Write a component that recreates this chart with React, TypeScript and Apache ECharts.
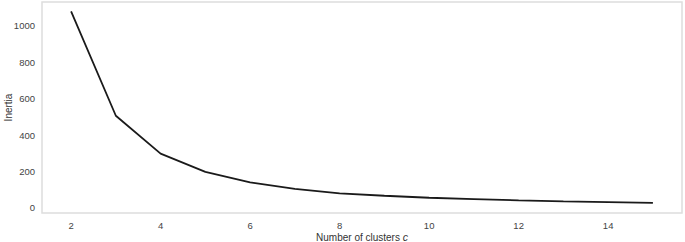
import React, { useEffect, useRef } from "react";
import * as echarts from "echarts";

const clusters = [2, 3, 4, 5, 6, 7, 8, 9, 10, 11, 12, 13, 14, 15];
const inertia = [1078, 506, 298, 198, 140, 105, 80, 67, 56, 49, 42, 36, 32, 28];
const xTicks = [2, 4, 6, 8, 10, 12, 14];
const yTicks = [0, 200, 400, 600, 800, 1000];

export default function App() {
  const ref = useRef<HTMLDivElement>(null);
  useEffect(() => {
    const chart = echarts.init(ref.current!, null, { renderer: "svg" });
    const font = "Liberation Sans, Arial, sans-serif";
    chart.setOption({
      animation: false,
      grid: {
        left: 42,
        top: 2,
        right: 3,
        bottom: 29,
        containLabel: false,
        outerBoundsMode: "none",
        show: true,
        borderColor: "#dddddd",
        borderWidth: 1.5,
        backgroundColor: "#ffffff",
      },
      xAxis: {
        type: "value",
        min: 1.35,
        max: 15.65,
        axisLine: { show: false },
        axisTick: { show: false },
        splitLine: { show: false },
        axisLabel: {
          customValues: xTicks,
          color: "#444",
          fontSize: 9.5,
          fontFamily: font,
          margin: 7,
          formatter: (v: number) => String(v),
        },
        name: "Number of clusters {i|c}",
        nameLocation: "middle",
        nameGap: 24,
        nameMoveOverlap: false,
        nameTextStyle: {
          color: "#333",
          fontSize: 10,
          fontFamily: font,
          verticalAlign: "middle",
          rich: { i: { fontStyle: "italic", fontSize: 10.5, color: "#333", fontFamily: font } },
        },
      },
      yAxis: {
        type: "value",
        min: -27.6,
        max: 1130,
        axisLine: { show: false },
        axisTick: { show: false },
        splitLine: { show: false },
        axisLabel: {
          customValues: yTicks,
          color: "#444",
          fontSize: 9.5,
          fontFamily: font,
          margin: 7,
          formatter: (v: number) => String(v),
        },
        name: "Inertia",
        nameLocation: "middle",
        nameGap: 34,
        nameRotate: 90,
        nameMoveOverlap: false,
        nameTextStyle: { color: "#333", fontSize: 10, fontFamily: font, verticalAlign: "middle" },
      },
      series: [
        {
          type: "line",
          data: clusters.map((c, i) => [c, inertia[i]]),
          symbol: "none",
          lineStyle: { color: "#1a1a1a", width: 1.8 },
        },
      ],
    });
    return () => chart.dispose();
  }, []);
  return <div ref={ref} style={{ width: 685, height: 242, position: "absolute", left: 0, top: 0 }} />;
}
